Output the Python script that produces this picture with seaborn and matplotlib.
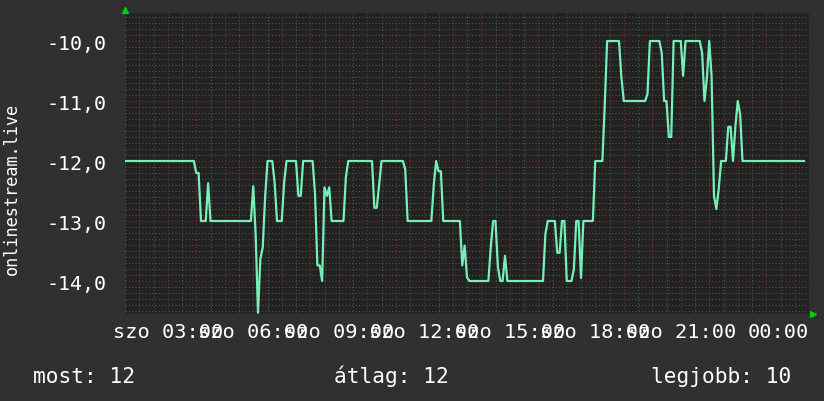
import numpy as np
import pandas as pd
import matplotlib
matplotlib.use('Agg')
import matplotlib.pyplot as plt
import matplotlib.transforms as mtransforms
from matplotlib.ticker import MultipleLocator, FuncFormatter
import seaborn as sns

# 5 minute samples, saturday 01:30 -> sunday 01:30
start_hour = 1.5
step_minutes = 5
online = [
    -12, -12, -12, -12, -12, -12, -12, -12, -12, -12, -12, -12,
    -12, -12, -12, -12, -12, -12, -12, -12, -12, -12, -12, -12,
    -12, -12, -12, -12, -12, -12, -12.2, -12.2, -13, -13, -13, -12.37,
    -13, -13, -13, -13, -13, -13, -13, -13, -13, -13, -13, -13,
    -13, -13, -13, -13, -13, -13, -12.42, -13.22, -14.53, -13.63, -13.44, -12.6,
    -12, -12, -12, -12.36, -13, -13, -13, -12.36, -12, -12, -12, -12,
    -12, -12.58, -12.58, -12, -12, -12, -12, -12, -12.54, -13.74, -13.74, -14,
    -12.44, -12.58, -12.44, -13, -13, -13, -13, -13, -13, -12.27, -12, -12,
    -12, -12, -12, -12, -12, -12, -12, -12, -12, -12.78, -12.78, -12.4,
    -12, -12, -12, -12, -12, -12, -12, -12, -12, -12, -12.14, -13,
    -13, -13, -13, -13, -13, -13, -13, -13, -13, -13, -12.4, -12,
    -12.17, -12.17, -13, -13, -13, -13, -13, -13, -13, -13, -13.74, -13.41,
    -13.94, -14, -14, -14, -14, -14, -14, -14, -14, -14, -13.44, -13,
    -13, -13.76, -14, -14, -13.58, -14, -14, -14, -14, -14, -14, -14,
    -14, -14, -14, -14, -14, -14, -14, -14, -14, -13.22, -13, -13,
    -13, -13, -13.53, -13.53, -13, -13, -14, -14, -14, -13.8, -13, -13,
    -13.95, -13, -13, -13, -13, -13, -12, -12, -12, -12, -11.07, -10,
    -10, -10, -10, -10, -10, -10.6, -11, -11, -11, -11, -11, -11,
    -11, -11, -11, -11, -10.88, -10, -10, -10, -10, -10, -10.2, -11,
    -11, -11.6, -11.6, -10, -10, -10, -10, -10.58, -10, -10, -10, -10,
    -10, -10, -10, -10.2, -11, -10.62, -10, -10.6, -12.58, -12.8, -12.46, -12,
    -12, -12, -11.43, -11.43, -12, -11.43, -11, -11.22, -12, -12, -12, -12,
    -12, -12, -12, -12, -12, -12, -12, -12, -12, -12, -12, -12,
    -12, -12, -12, -12, -12, -12, -12, -12, -12, -12, -12, np.nan,
]
hours = start_hour + np.arange(len(online)) * step_minutes / 60

tick_names = {3: 'szo 03:00', 6: 'szo 06:00', 9: 'szo 09:00', 12: 'szo 12:00',
              15: 'szo 15:00', 18: 'szo 18:00', 21: 'szo 21:00', 24: '00:00'}
legend_text = ['most: 12', 'átlag: 12', 'legjobb: 10']

df = pd.DataFrame({'hour': hours, 'value': online})

bg = '#303030'
canvas = '#222222'
line_col = '#76f0b8'

sns.set_style('dark')
plt.rcParams['font.family'] = ['DejaVu Sans Mono', 'DejaVu Sans']

fig = plt.figure(figsize=(8.24, 4.02), dpi=100, facecolor=bg)
ax = fig.add_axes([125 / 824, 1 - 315 / 402, 684 / 824, 301 / 402])
ax.set_facecolor(canvas)

sns.lineplot(data=df, x='hour', y='value', ax=ax, color=line_col, linewidth=1.6)

ax.set_xlim(1.5, 25.5)
ax.set_ylim(-14.55, -9.533)

ax.xaxis.set_major_locator(MultipleLocator(1))
ax.xaxis.set_minor_locator(MultipleLocator(0.5))
ax.yaxis.set_major_locator(MultipleLocator(1))
ax.yaxis.set_minor_locator(MultipleLocator(0.1))
ax.xaxis.set_major_formatter(FuncFormatter(lambda v, p: tick_names.get(int(round(v)), '') if abs(v - round(v)) < 1e-6 else ''))
ax.yaxis.set_major_formatter(FuncFormatter(lambda v, p: f'{v:.1f}'.replace('.', ',')))

ax.grid(which='major', color='#7a3434', linestyle=(0, (1, 2)), linewidth=0.8)
ax.grid(which='minor', color='#555555', linestyle=(0, (1, 2)), linewidth=0.8)
ax.set_axisbelow(True)

ax.tick_params(which='both', length=0)
ax.tick_params(axis='y', labelsize=14.4, labelcolor='white', pad=13)
ax.tick_params(axis='x', labelsize=14.6, labelcolor='white', pad=6)
for s in ax.spines.values():
    s.set_visible(False)
ax.set_xlabel('')
ax.set_ylabel('')

# last label sits a bit to the right in the original
for lab in ax.get_xticklabels():
    if lab.get_text() == '00:00':
        lab.set_transform(lab.get_transform() + mtransforms.ScaledTranslation(12 / 100, 0, fig.dpi_scale_trans))

fig.text(12 / 824, 1 - 189 / 402, 'onlinestream.live', rotation=90, color='white',
         fontsize=12.2, ha='center', va='center')

for txt, xpix in zip(legend_text, [33, 334, 651]):
    fig.text(xpix / 824, 1 - 383 / 402, txt, color='white', fontsize=15.2, ha='left', va='baseline')

# rrd style arrows
ax.plot([0], [1], marker='^', color='#00cc00', markersize=4.5, transform=mtransforms.offset_copy(ax.transAxes, fig, x=0, y=3, units='dots'), clip_on=False)
ax.plot([1], [0], marker='>', color='#00cc00', markersize=4.5, transform=mtransforms.offset_copy(ax.transAxes, fig, x=4, y=0, units='dots'), clip_on=False)

fig.savefig('out.png', dpi=100, facecolor=bg)
